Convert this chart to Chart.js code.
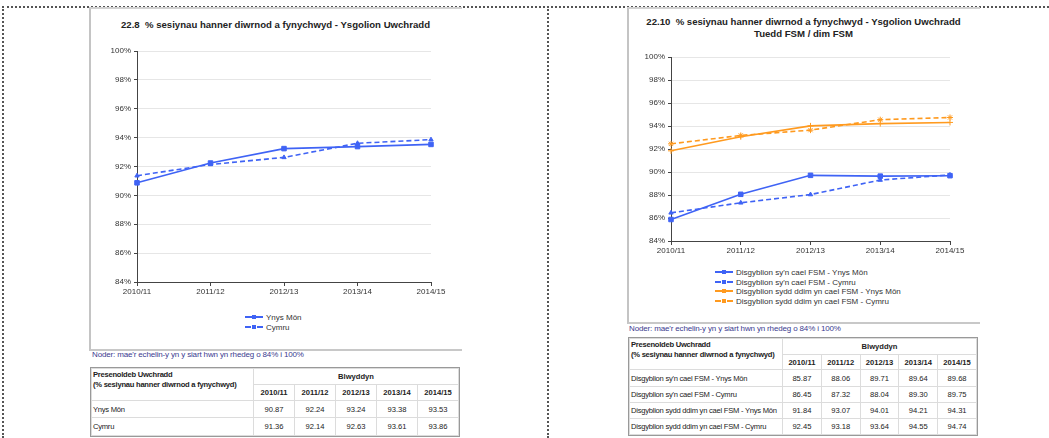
<!DOCTYPE html>
<html>
<head>
<meta charset="utf-8">
<script src="https://cdn.jsdelivr.net/npm/chart.js@4"></script>
<style>
  body { margin: 0; width: 1049px; height: 438px; position: relative; background: #fff; font-family: "Liberation Sans", Arial, sans-serif; color: #222; overflow: hidden; }
  .abs { position: absolute; }
  .dotH { position: absolute; border-top: 2px dotted #555; height: 0; }
  .dotV { position: absolute; border-left: 2px dotted #555; width: 0; }
  .box { position: absolute; border-left: 2px solid #c4c4c4; border-bottom: 2px solid #c8c8c8; border-top: 2px solid #d0d0d0; }
  .title { position: absolute; font-size: 9.6px; font-weight: bold; text-align: center; color: #222; line-height: 12px; }
  .note { position: absolute; font-size: 8px; color: #3b3b8f; white-space: nowrap; letter-spacing: -0.15px; }
  .legend { position: absolute; font-size: 8px; color: #333; }
  .legend div { height: 9.7px; line-height: 9.7px; white-space: nowrap; position: relative; }
  .sw { display: inline-block; width: 18px; height: 0; vertical-align: middle; margin-right: 3px; position: relative; top: -1px; }
  .sw i { position: absolute; left: 7px; top: -3px; width: 4px; height: 4px; }
  table { position: absolute; border-collapse: collapse; font-size: 7.6px; table-layout: fixed; }
  td, th { border: 1px solid #dcdcdc; padding: 0 2px; overflow: hidden; white-space: nowrap; }
  th { font-weight: bold; }
  td.n { text-align: center; }
  td.lab, th.lab { letter-spacing: -0.25px; padding-left: 1px; }
  table.outer { outline: 1px solid #999; }
</style>
</head>
<body>
<div class="dotH" style="left:2px; top:6px; width:1047px;"></div>
<div class="dotV" style="left:2px; top:6px; height:432px;"></div>
<div class="dotV" style="left:547px; top:6px; height:432px;"></div>

<div class="box" style="left:89px; top:7px; width:371px; height:340px;"></div>
<div class="title" style="left:91px; top:19px; width:369px;">22.8&nbsp; % sesiynau hanner diwrnod a fynychwyd - Ysgolion Uwchradd</div>
<canvas id="chart1" class="abs" style="left:92px; top:40px;" width="366" height="260"></canvas>
<div id="legend1" class="legend" style="left:245px; top:313px;"></div>
<div class="note" style="left:92px; top:350px;">Noder: mae'r echelin-y yn y siart hwn yn rhedeg o 84% i 100%</div>
<table id="table1" class="outer" style="left:91px; top:368px; width:368px;"></table>

<div class="box" style="left:627px; top:7px; width:351px; height:313px;"></div>
<div class="title" style="left:629px; top:16px; width:349px;">22.10&nbsp; % sesiynau hanner diwrnod a fynychwyd - Ysgolion Uwchradd<br>Tuedd FSM / dim FSM</div>
<canvas id="chart2" class="abs" style="left:630px; top:45px;" width="340" height="214"></canvas>
<div id="legend2" class="legend" style="left:715px; top:268px;"></div>
<div class="note" style="left:629px; top:324px;">Noder: mae'r echelin-y yn y siart hwn yn rhedeg o 84% i 100%</div>
<table id="table2" class="outer" style="left:629px; top:338px; width:348px;"></table>

<script>
// years on the x axis / table columns
const years = ['2010/11', '2011/12', '2012/13', '2013/14', '2014/15'];
const yTicks = [84, 86, 88, 90, 92, 94, 96, 98, 100];

// chart 22.8
const ynysMon = [90.87, 92.24, 93.24, 93.38, 93.53];
const cymru = [91.36, 92.14, 92.63, 93.61, 93.86];

// chart 22.10
const fsmYnysMon = [85.87, 88.06, 89.71, 89.64, 89.68];
const fsmCymru = [86.45, 87.32, 88.04, 89.30, 89.75];
const nonFsmYnysMon = [91.84, 93.07, 94.01, 94.21, 94.31];
const nonFsmCymru = [92.45, 93.18, 93.64, 94.55, 94.74];

const BLUE = '#3f63f5';
const ORANGE = '#ff9a1f';
const tableHead1 = 'Presenoldeb Uwchradd';
const tableHead2 = '(% sesiynau hanner diwrnod a fynychwyd)';

Chart.defaults.font.family = '"Liberation Sans", Arial, sans-serif';
Chart.defaults.font.size = 8;
Chart.defaults.color = '#333';

function lineSet(label, data, color, dashed, style, radius) {
    return {
        label: label,
        data: data,
        borderColor: color,
        backgroundColor: color,
        borderWidth: 1.6,
        borderDash: dashed ? [5, 3] : [],
        pointStyle: style,
        pointRadius: radius,
        pointBorderWidth: 1,
        tension: 0
    };
}

function makeOptions(yWidth, pad) {
    return {
        responsive: false,
        animation: false,
        layout: { padding: pad },
        plugins: { legend: { display: false }, tooltip: { enabled: false } },
        scales: {
            x: {
                offset: false,
                afterFit: s => { s.height = 18; },
                grid: { color: 'transparent', tickColor: '#444', tickLength: 4 },
                border: { display: true, color: '#444', width: 1 },
                ticks: { padding: 1, maxRotation: 0, autoSkip: false }
            },
            y: {
                min: 84,
                max: 100,
                afterFit: s => { s.width = yWidth; },
                afterBuildTicks: s => { s.ticks = yTicks.map(v => ({ value: v })); },
                grid: { color: '#e6e6e6', tickColor: '#444', tickLength: 3 },
                border: { display: true, color: '#444', width: 1 },
                ticks: { padding: 3, callback: v => v + '%' }
            }
        }
    };
}

const series1 = [
    lineSet('Ynys Môn', ynysMon, BLUE, false, 'rect', 3.2),
    lineSet('Cymru', cymru, BLUE, true, 'triangle', 2.5)
];
new Chart(document.getElementById('chart1'), {
    type: 'line',
    data: { labels: years, datasets: series1 },
    options: makeOptions(45, { top: 11, right: 27, bottom: 0, left: 0 })
});

const series2 = [
    lineSet("Disgyblion sy'n cael FSM - Ynys Môn", fsmYnysMon, BLUE, false, 'rect', 3.2),
    lineSet("Disgyblion sy'n cael FSM - Cymru", fsmCymru, BLUE, true, 'triangle', 2.5),
    lineSet('Disgyblion sydd ddim yn cael FSM - Ynys Môn', nonFsmYnysMon, ORANGE, false, 'cross', 3),
    lineSet('Disgyblion sydd ddim yn cael FSM - Cymru', nonFsmCymru, ORANGE, true, 'star', 3)
];
new Chart(document.getElementById('chart2'), {
    type: 'line',
    data: { labels: years, datasets: series2 },
    options: makeOptions(41, { top: 12, right: 20, bottom: 0, left: 0 })
});

// html legends
function buildLegend(id, sets) {
    const el = document.getElementById(id);
    sets.forEach(ds => {
        const row = document.createElement('div');
        const sw = document.createElement('span');
        sw.className = 'sw';
        sw.style.borderTop = '2px ' + (ds.borderDash.length ? 'dashed ' : 'solid ') + ds.borderColor;
        const mk = document.createElement('i');
        mk.style.background = ds.borderColor;
        sw.appendChild(mk);
        row.appendChild(sw);
        row.appendChild(document.createTextNode(ds.label));
        el.appendChild(row);
    });
}
buildLegend('legend1', series1);
buildLegend('legend2', series2);

// data tables
function buildTable(id, sets, firstW, rowH) {
    const t = document.getElementById(id);
    let html = '<colgroup><col style="width:' + firstW + 'px">' + years.map(() => '<col>').join('') + '</colgroup>';
    html += '<tr style="height:' + rowH[0] + 'px"><th rowspan="2" class="lab" style="text-align:left;vertical-align:top;line-height:10px;padding-top:1px">' +
        tableHead1 + '<br>' + tableHead2 + '</th><th colspan="5" style="border-bottom:1px solid #dcdcdc">Blwyddyn</th></tr>';
    html += '<tr style="height:' + rowH[1] + 'px">' + years.map(y => '<th>' + y + '</th>').join('') + '</tr>';
    sets.forEach((ds, i) => {
        html += '<tr style="height:' + rowH[2 + i] + 'px"><td class="lab">' + ds.label + '</td>' +
            ds.data.map(v => '<td class="n">' + v.toFixed(2) + '</td>').join('') + '</tr>';
    });
    t.innerHTML = html;
}
buildTable('table1', series1, 162, [16, 16, 17, 18]);
buildTable('table2', series2, 153, [16, 15, 17, 16, 16, 16]);
</script>
</body>
</html>
